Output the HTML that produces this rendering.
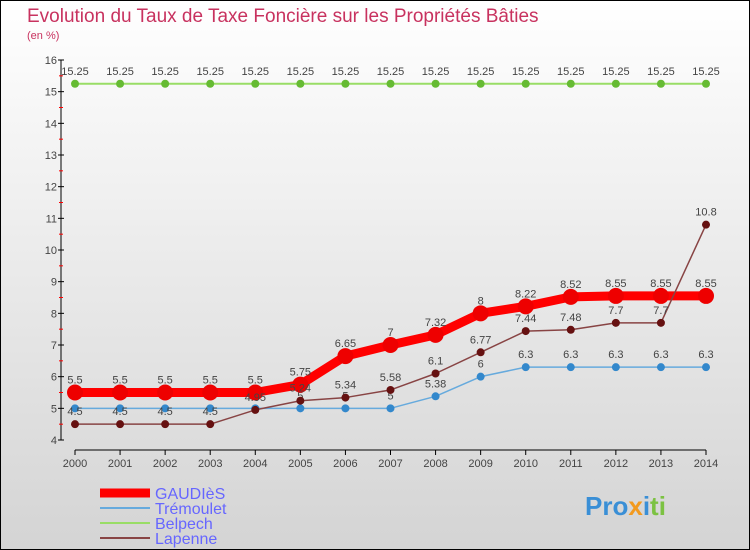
<!DOCTYPE html>
<html><head><meta charset="utf-8"><style>
body{margin:0}
svg{display:block;font-family:"Liberation Sans",sans-serif}
</style></head><body>
<svg width="750" height="550">
<defs><linearGradient id="bg" x1="0" y1="0" x2="0" y2="1"><stop offset="0" stop-color="#ffffff"/><stop offset="1" stop-color="#d4d4d4"/></linearGradient></defs>
<rect x="0.5" y="0.5" width="749" height="549" fill="url(#bg)" stroke="#000"/>
<text x="27" y="22" font-size="19" fill="#c8325f">Evolution du Taux de Taxe Foncière sur les Propriétés Bâties</text>
<text x="27" y="39" font-size="11" fill="#c8325f">(en %)</text>
<g id="axes"></g>
<g id="series"></g>
<g id="legend"></g>
<g font-size="26" font-weight="bold">
<text x="585" y="515" fill="#3a8fd6">Pro<tspan fill="#f39a1e">x</tspan><tspan fill="#3a8fd6">i</tspan><tspan fill="#7cc242">ti</tspan></text>
</g>
</svg>
<script>
const years=[2000,2001,2002,2003,2004,2005,2006,2007,2008,2009,2010,2011,2012,2013,2014];
const gaudies=[5.5,5.5,5.5,5.5,5.5,5.75,6.65,7,7.32,8,8.22,8.52,8.55,8.55,8.55];
const tremoulet=[5,5,5,5,5,5,5,5,5.38,6,6.3,6.3,6.3,6.3,6.3];
const belpech=[15.25,15.25,15.25,15.25,15.25,15.25,15.25,15.25,15.25,15.25,15.25,15.25,15.25,15.25,15.25];
const lapenne=[4.5,4.5,4.5,4.5,4.95,5.24,5.34,5.58,6.1,6.77,7.44,7.48,7.7,7.7,10.8];
const yTicks=[4,5,6,7,8,9,10,11,12,13,14,15,16];
const NS="http://www.w3.org/2000/svg";
function X(i){return 75+i*(706-75)/(years.length-1);}
function Y(v){return 440-(v-4)*(380/12);}
function mk(tag,attrs,parent,text){const e=document.createElementNS(NS,tag);for(const k in attrs)e.setAttribute(k,attrs[k]);if(text!==undefined)e.textContent=text;parent.appendChild(e);return e;}
const axes=document.getElementById('axes');
let e=mk('line',{x1:61,y1:Y(16),x2:61,y2:Y(4),stroke:'#000'},axes);


yTicks.forEach(t=>{
 mk('line',{x1:58,y1:Y(t),x2:64,y2:Y(t),stroke:'#000'},axes);
 if(t<16){mk('line',{x1:59,y1:Y(t+0.5),x2:63,y2:Y(t+0.5),stroke:'#f00'},axes);}
 const l=mk('text',{x:57,y:Y(t)+4,'font-size':11,fill:'#444','text-anchor':'end'},axes,String(t));
 
 
});
e=mk('line',{x1:X(0),y1:450,x2:X(14),y2:450,stroke:'#000'},axes);


years.forEach((yr,i)=>{
 mk('line',{x1:X(i),y1:450,x2:X(i),y2:455,stroke:'#000'},axes);
 const l=mk('text',{x:X(i),y:467,'font-size':11,fill:'#444','text-anchor':'middle'},axes,String(yr));
 
 
});
const ser=document.getElementById('series');
function draw(name,vals,color,dot,width,r){
 const g=mk('g',{},ser);
 
 
 mk('polyline',{points:vals.map((v,i)=>X(i)+','+Y(v)).join(' '),fill:'none',stroke:color,'stroke-width':width,'stroke-linejoin':'round'},g);
 vals.forEach((v,i)=>{
  const c=mk('circle',{cx:X(i),cy:Y(v),r:r,fill:dot},g);
  
  
  mk('text',{x:X(i),y:Y(v)-9,'font-size':11,fill:'#444','text-anchor':'middle'},g,String(v));
 });
}
draw('belpech',belpech,'#99dd66','#66bb33',2,4);
draw('tremoulet',tremoulet,'#66aadd','#3388cc',1.5,4);
draw('gaudies',gaudies,'#ff0000','#ee0000',9,8);
draw('lapenne',lapenne,'#884444','#661111',1.5,4);
const leg=document.getElementById('legend');
[['GAUDIèS','#ff0000',9],['Trémoulet','#66aadd',2],['Belpech','#99dd66',2],['Lapenne','#884444',2]].forEach((d,i)=>{
 const y=493+i*15;
 const g=mk('g',{},leg);
 
 
 mk('line',{x1:100,y1:y,x2:150,y2:y,stroke:d[1],'stroke-width':d[2]},g);
 mk('text',{x:155,y:y+6,'font-size':16,fill:'#6666ff'},g,d[0]);
});
</script>
</body></html>
